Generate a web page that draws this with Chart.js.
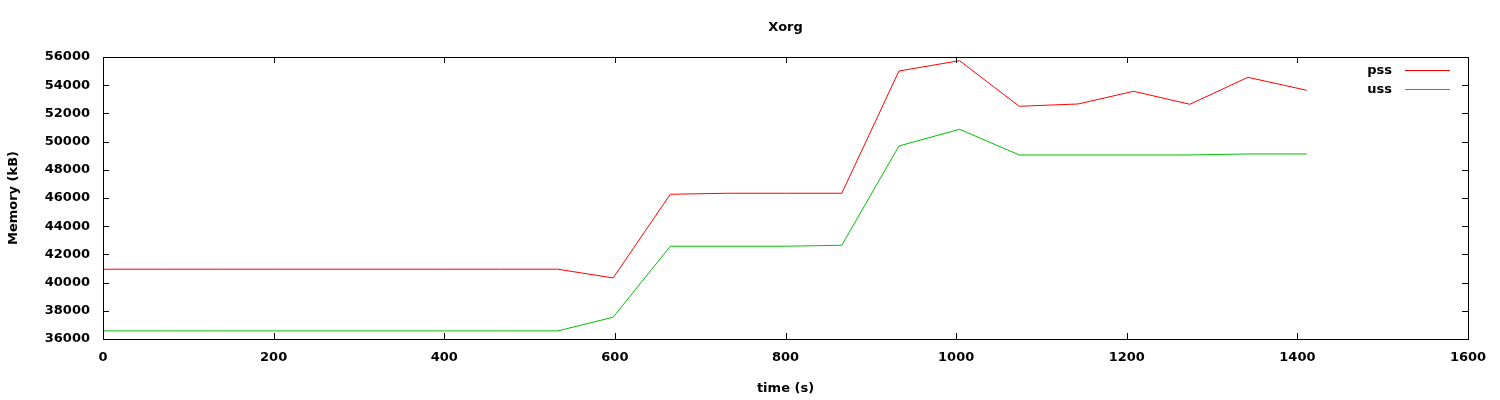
<!DOCTYPE html>
<html>
<head>
<meta charset="utf-8">
<script src="https://cdn.jsdelivr.net/npm/chart.js@4/dist/chart.umd.min.js"></script>
<style>
  html, body { margin: 0; padding: 0; background: #fff; }
  #wrap { width: 1500px; height: 400px; }
</style>
</head>
<body>
<div id="wrap"><canvas id="memChart" width="1500" height="400"></canvas></div>
<script>
// sample times (s)
const times = [0, 67, 133, 200, 266, 333, 400, 466, 533, 598, 665, 732, 799, 866, 933, 1004, 1074, 1143, 1208, 1274, 1342, 1411];
// memory in kB
const pss = [40950, 40950, 40950, 40950, 40950, 40950, 40950, 40950, 40950, 40330, 46265, 46336, 46336, 46336, 55007, 55738, 52505, 52668, 53568, 52646, 54560, 53639];
const uss = [36573, 36573, 36573, 36573, 36573, 36573, 36573, 36573, 36573, 37545, 42580, 42580, 42580, 42650, 49690, 50874, 49052, 49052, 49052, 49052, 49123, 49123];

const xTicks = [0, 200, 400, 600, 800, 1000, 1200, 1400, 1600];
const yTicks = [36000, 38000, 40000, 42000, 44000, 46000, 48000, 50000, 52000, 54000, 56000];

const FONT = "'DejaVu Sans', sans-serif";
const FSIZE = 13;

const toPoints = (vals) => times.map((t, i) => ({ x: t, y: vals[i] }));

// gnuplot-like frame, inward ticks on every side, title and in-plot key
const gnuplotFrame = {
  id: 'gnuplotFrame',
  afterDatasetsDraw(chart) {
    const ctx = chart.ctx;
    const a = chart.chartArea;
    const xs = chart.scales.x, ys = chart.scales.y;
    ctx.save();
    ctx.strokeStyle = '#000';
    ctx.lineWidth = 1;
    ctx.strokeRect(a.left + 0.5, a.top + 0.5, a.right - a.left, a.bottom - a.top);
    ctx.beginPath();
    xTicks.forEach(v => {
      const px = Math.round(xs.getPixelForValue(v)) + 0.5;
      ctx.moveTo(px, a.bottom); ctx.lineTo(px, a.bottom - 6);
      ctx.moveTo(px, a.top); ctx.lineTo(px, a.top + 6);
    });
    yTicks.forEach(v => {
      const py = Math.round(ys.getPixelForValue(v)) + 0.5;
      ctx.moveTo(a.left, py); ctx.lineTo(a.left + 6, py);
      ctx.moveTo(a.right, py); ctx.lineTo(a.right - 6, py);
    });
    ctx.stroke();

    // title
    ctx.fillStyle = '#000';
    ctx.font = 'bold ' + FSIZE + 'px ' + FONT;
    ctx.textAlign = 'center';
    ctx.textBaseline = 'middle';
    ctx.fillText('Xorg', (a.left + a.right) / 2, 28);

    // key
    chart.data.datasets.forEach((ds, i) => {
      const y = 71 + i * 19;
      ctx.fillStyle = '#000';
      ctx.textAlign = 'right';
      ctx.fillText(ds.label, 1392, y);
      ctx.strokeStyle = ds.borderColor;
      ctx.beginPath();
      ctx.moveTo(1405, y - 0.5); ctx.lineTo(1450, y - 0.5);
      ctx.stroke();
    });
    ctx.restore();
  }
};

const tickFont = { family: FONT, size: FSIZE, weight: 'bold' };

new Chart(document.getElementById('memChart').getContext('2d'), {
  type: 'line',
  data: {
    datasets: [
      { label: 'pss', data: toPoints(pss), borderColor: '#ff0000', borderWidth: 1, pointRadius: 0, fill: false, tension: 0 },
      { label: 'uss', data: toPoints(uss), borderColor: '#00c000', borderWidth: 1, pointRadius: 0, fill: false, tension: 0 }
    ]
  },
  options: {
    responsive: false,
    animation: false,
    layout: { padding: { top: 57, right: 32, left: 0, bottom: 0 } },
    plugins: {
      legend: { display: false },
      title: { display: false },
      tooltip: { enabled: false }
    },
    scales: {
      x: {
        type: 'linear',
        min: 0, max: 1600,
        afterBuildTicks: (s) => { s.ticks = xTicks.map(v => ({ value: v })); },
        afterFit: (s) => { s.height = 61; },
        grid: { display: false, drawTicks: false },
        border: { display: false },
        ticks: { color: '#000', padding: 11, maxRotation: 0, font: tickFont, callback: (v) => String(v) },
        title: { display: true, text: 'time (s)', color: '#000', padding: { top: 0, bottom: 4 }, font: tickFont }
      },
      y: {
        min: 36000, max: 56000,
        afterBuildTicks: (s) => { s.ticks = yTicks.map(v => ({ value: v })); },
        afterFit: (s) => { s.width = 103; },
        grid: { display: false, drawTicks: false },
        border: { display: false },
        ticks: { color: '#000', padding: 13, font: tickFont, callback: (v) => String(v) },
        title: { display: true, text: 'Memory (kB)', color: '#000', padding: { top: 6, bottom: 0 }, font: tickFont }
      }
    }
  },
  plugins: [gnuplotFrame]
});
</script>
</body>
</html>
